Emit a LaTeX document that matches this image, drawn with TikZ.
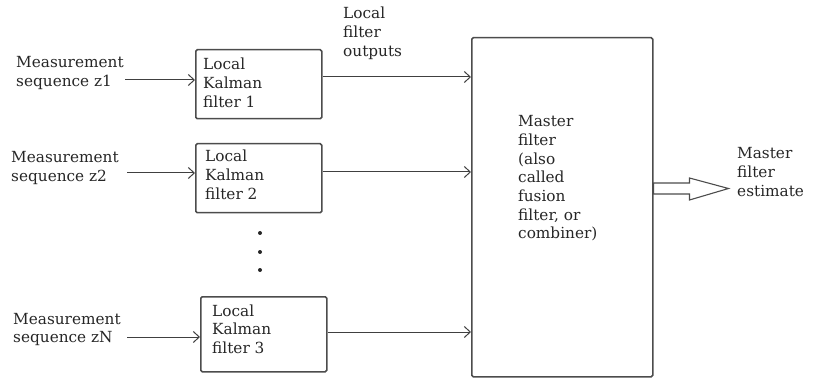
\documentclass[tikz,border=0pt]{standalone}
\usepackage{fontspec}
\setmainfont{DejaVu Serif}
\usetikzlibrary{arrows.meta}
\begin{document}
\begin{tikzpicture}[x=1pt,y=-1pt,
  box/.style={draw=black!70, line width=1.5pt, rounded corners=1.5pt, inner sep=0pt, anchor=north west},
  txt/.style={anchor=base west, inner sep=0pt, align=left, font=\fontsize{15.3}{18.7}\selectfont, text=black!85},
  conn/.style={draw=black!75, line width=1pt, -{Straight Barb[length=6pt,width=11pt]}}]
\useasboundingbox (0,0) rectangle (821,379);
% boxes
\node[box, minimum width=126pt, minimum height=69pt] (b1) at (195,49) {};
\node[box, minimum width=126pt, minimum height=69pt] (b2) at (195,143) {};
\node[box, minimum width=126pt, minimum height=75pt] (b3) at (200,296) {};
\node[box, minimum width=181pt, minimum height=339pt] (m) at (471,37) {};
% texts (anchor = baseline of last line)
\node[txt] (l1) at (16,86.7) {Measurement\\sequence z1};
\node[txt] (l2) at (11,181.7) {Measurement\\sequence z2};
\node[txt] (l3) at (13,342.7) {Measurement\\sequence zN};
\node[txt] (lo) at (343,56.4) {Local\\filter\\outputs};
\node[txt] (t1) at (203,107.4) {Local\\Kalman\\filter 1};
\node[txt] (t2) at (205,199.4) {Local\\Kalman\\filter 2};
\node[txt] (t3) at (212,353.4) {Local\\Kalman\\filter 3};
\node[txt] (mt) at (518,239) {Master\\filter\\(also\\called\\fusion\\filter, or\\combiner)};
\node[txt] (et) at (737,196.4) {Master\\filter\\estimate};
% input arrows
\coordinate (s1) at (125,80);
\coordinate (s2) at (127,173);
\coordinate (s3) at (127,337);
\draw[conn] (s1) -- (s1 -| b1.west);
\draw[conn] (s2) -- (s2 -| b2.west);
\draw[conn] (s3) -- (s3 -| b3.west);
% output arrows
\coordinate (o1) at (400,77);
\coordinate (o2) at (400,172);
\coordinate (o3) at (400,332);
\draw[conn] (o1 -| b1.east) -- (o1 -| m.west);
\draw[conn] (o2 -| b2.east) -- (o2 -| m.west);
\draw[conn] (o3 -| b3.east) -- (o3 -| m.west);
% dots
\fill[black!85] (260,233) circle (2pt);
\fill[black!85] (260,252) circle (2pt);
\fill[black!85] (260,270) circle (2pt);
% hollow output arrow
\coordinate (fa) at (m.east |- 700,188.5);
\draw[draw=black!70, line width=1.1pt, fill=white, line join=miter]
  (fa) ++(0,-5.5) -- ++(36,0) -- ++(0,-5) -- ++(39,10.5) -- ++(-39,11.5) -- ++(0,-6) -- ++(-36,0) -- cycle;
\end{tikzpicture}
\end{document}
